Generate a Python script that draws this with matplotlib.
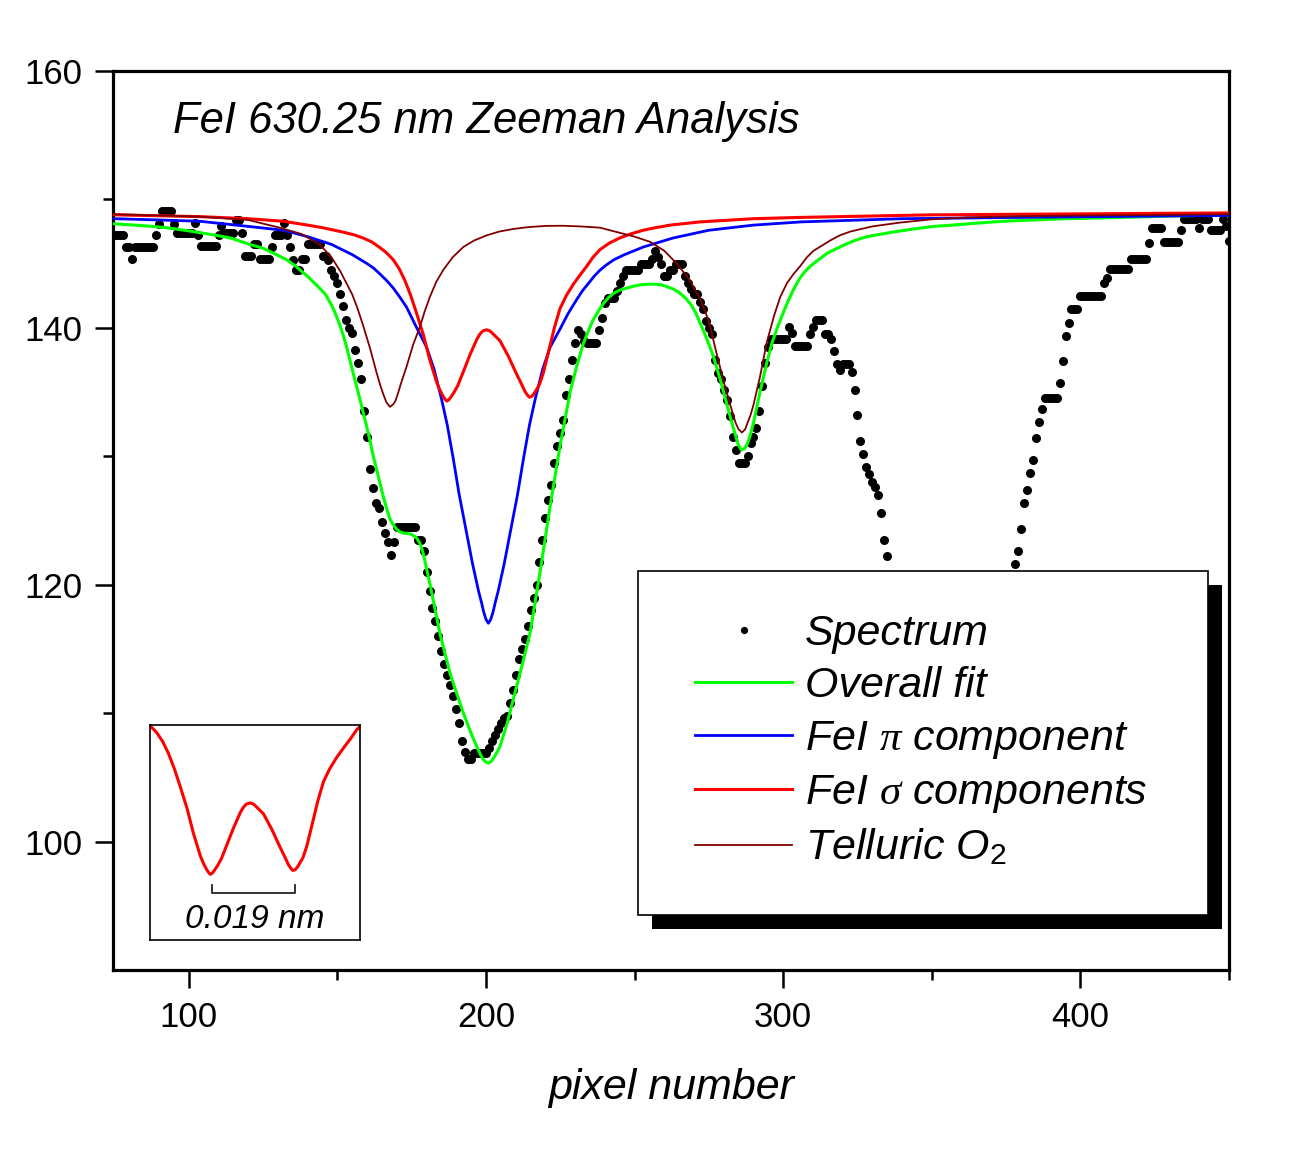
import numpy as np
import matplotlib
matplotlib.use('Agg')
import matplotlib.pyplot as plt
from matplotlib.patches import Rectangle

plt.rcParams['font.family'] = ['Liberation Sans', 'DejaVu Sans']
plt.rcParams['mathtext.fontset'] = 'custom'
plt.rcParams['mathtext.rm'] = 'Liberation Sans'
plt.rcParams['mathtext.it'] = 'Liberation Serif:italic'

# ---------------- data ----------------
spec_x_left = list(range(75, 336))
spec_y_left = [
    147.2, 147.2, 147.2, 147.2, 146.3, 146.3, 145.4, 146.3, 146.3, 146.3,
    146.3, 146.3, 146.3, 146.3, 147.2, 148.1, 149.1, 149.1, 149.1, 149.1,
    148.1, 147.4, 147.4, 147.4, 147.4, 147.4, 147.4, 148.2, 147.2, 146.4,
    146.4, 146.4, 146.4, 146.4, 146.4, 147.2, 147.9, 147.4, 147.4, 147.4,
    147.4, 148.4, 148.4, 147.4, 145.6, 145.6, 145.6, 146.5, 146.5, 145.4,
    145.4, 145.4, 145.4, 146.3, 147.2, 147.2, 147.2, 148.2, 147.2, 146.3,
    145.3, 144.5, 144.5, 145.4, 145.4, 146.5, 146.5, 146.5, 146.5, 146.5,
    145.6, 145.6, 145.3, 144.5, 144.0, 143.5, 142.6, 141.7, 140.6, 140.0,
    139.6, 138.3, 137.3, 136.0, 133.5, 131.5, 129.0, 127.5, 126.4, 126.0,
    124.9, 124.0, 123.3, 122.3, 123.3, 124.5, 124.5, 124.5, 124.5, 124.5,
    124.5, 124.5, 123.5, 123.5, 122.6, 121.0, 119.5, 118.2, 117.2, 116.0,
    114.8, 113.8, 113.0, 112.2, 111.3, 110.3, 109.2, 107.8, 107.0, 106.4,
    106.4, 106.9, 106.9, 106.9, 106.9, 106.9, 107.3, 107.8, 108.3, 108.8,
    109.2, 109.6, 109.8, 110.8, 111.8, 113.0, 114.2, 115.0, 115.8, 116.8,
    118.0, 119.0, 120.0, 121.8, 123.5, 125.2, 126.6, 127.8, 129.5, 130.8,
    131.8, 132.8, 134.8, 136.0, 137.5, 138.8, 139.8, 139.5, 139.0, 138.8,
    138.8, 138.8, 138.8, 139.8, 140.8, 141.9, 142.3, 142.3, 142.3, 142.9,
    143.5, 144.0, 144.5, 144.5, 144.5, 144.5, 144.5, 145.0, 145.0, 145.0,
    145.0, 145.4, 146.0, 145.5, 145.0, 144.0, 144.0, 144.5, 144.5, 145.0,
    145.0, 145.0, 144.0, 143.5, 143.0, 142.6, 142.6, 142.0, 141.5, 140.5,
    140.0, 139.5, 137.5, 136.5, 136.0, 135.2, 134.4, 133.1, 131.5, 130.5,
    129.5, 129.5, 129.5, 130.0, 131.0, 131.5, 132.2, 133.5, 135.5, 137.3,
    138.5, 139.1, 139.1, 139.1, 139.1, 139.1, 139.1, 140.1, 139.6, 138.6,
    138.6, 138.6, 138.6, 138.6, 139.5, 140.1, 140.6, 140.6, 140.6, 139.5,
    139.5, 139.1, 138.2, 137.2, 136.7, 137.2, 137.2, 137.2, 136.6, 135.2,
    133.2, 131.2, 130.2, 129.2, 128.6, 128.0, 127.6, 127.0, 125.6, 123.5, 122.2,
]
spec_x_right = list(range(378, 451))
spec_y_right = [
    121.6, 122.6, 124.3, 126.4, 127.4, 128.7, 129.7, 131.4, 132.7, 133.7,
    134.5, 134.5, 134.5, 134.5, 134.5, 135.7, 137.4, 139.4, 140.4, 141.5,
    141.5, 141.5, 142.5, 142.5, 142.5, 142.5, 142.5, 142.5, 142.5, 142.5,
    143.5, 143.9, 144.6, 144.6, 144.6, 144.6, 144.6, 144.6, 144.6, 145.4,
    145.4, 145.4, 145.4, 145.4, 145.4, 146.6, 147.8, 147.8, 147.8, 147.8,
    146.7, 146.7, 146.7, 146.7, 146.7, 146.7, 147.6, 148.5, 148.5, 148.5,
    148.5, 148.5, 147.8, 148.5, 148.5, 148.5, 147.6, 147.6, 147.6, 147.6,
    148.5, 147.9, 146.8,
]
spec_x = spec_x_left + spec_x_right
spec_y = spec_y_left + spec_y_right

fit_x = [75, 85, 92.5, 100, 109.3, 114, 120.5, 125, 129.5, 133, 136, 140, 144,
         146, 147.5, 149, 150.7, 152, 153, 155.5, 157.2, 158.7, 160.5, 162.1,
         163.8, 165.4, 166.6, 167.7, 169, 170, 171.2, 172.5, 173.8, 175, 176.5,
         177.8, 178.7, 179.5, 181.1, 184.5, 187.9, 190.2, 192.4, 194.7, 196.9,
         198, 199, 200, 200.8, 201.8, 202.8, 203.8, 204.7, 207, 209.2, 212,
         214.8, 218.2, 221.5, 224.9, 228.3, 230.5, 232.8, 234.5, 236, 237.8,
         239.5, 241.2, 243, 245.2, 247.4, 249.7, 252, 254.5, 256.9, 259, 261,
         263.2, 265.3, 267.2, 269, 270.5, 272, 274.2, 276.5, 278.8, 281, 282.5,
         284, 284.9, 285.9, 287, 288, 289, 290, 292.2, 294.5, 296.2, 298, 299.7,
         301.3, 303.5, 305.7, 307.4, 309.1, 311.9, 314.7, 317.3, 320, 324,
         328.1, 333, 338, 344, 350.6, 357, 365, 374, 384.3, 395, 405, 417,
         429.2, 440, 450]
fit_y = [148.1, 147.95, 147.8, 147.55, 147.2, 147.0, 146.5, 146.2, 145.7, 145.3,
         144.8, 144.0, 143.1, 142.6, 142.0, 141.3, 140.3, 139.4, 138.6, 136.3,
         134.8, 133.4, 131.7, 130.0, 128.4, 126.9, 125.9, 125.1, 124.6, 124.3,
         124.1, 124.0, 124.0, 123.9, 123.7, 123.2, 122.6, 121.8, 120.1, 116.2,
         113.1, 111.5, 110.0, 108.6, 107.4, 106.85, 106.4, 106.2, 106.1, 106.25,
         106.6, 107.0, 107.4, 109.1, 111.1, 113.6, 116.2, 121.0, 126.0, 130.8,
         135.0, 137.0, 138.8, 139.8, 140.6, 141.3, 141.9, 142.35, 142.7, 142.95,
         143.1, 143.25, 143.35, 143.4, 143.4, 143.35, 143.2, 143.0, 142.7, 142.3,
         141.8, 141.2, 140.4, 139.2, 137.8, 136.0, 134.1, 132.8, 131.6, 130.9,
         130.5, 130.6, 131.0, 131.7, 132.6, 135.0, 137.3, 138.8, 140.0, 141.0,
         141.9, 143.0, 143.9, 144.4, 144.8, 145.3, 145.8, 146.1, 146.4, 146.8,
         147.1, 147.3, 147.5, 147.7, 147.9, 148.0, 148.15, 148.3, 148.4, 148.5,
         148.55, 148.62, 148.7, 148.75, 148.8]

pi_x = [75, 90, 103.7, 120, 131.8, 140, 148, 155, 160, 162.2, 164.3, 166.5,
        168.8, 171, 173.3, 176.7, 180, 182.5, 185, 187, 189, 191, 193.5, 195.5,
        197.5, 198.5, 199.2, 200, 200.8, 201.6, 202.4, 203.1, 204.1, 206.1,
        208.1, 210.6, 212.6, 214.6, 216.6, 219.1, 221.6, 224.9, 227.6, 230.5,
        232.5, 234.6, 236.5, 238.4, 240.5, 243, 246.6, 253, 263, 275, 290, 306,
        340, 400, 450]
pi_y = [148.5, 148.4, 148.3, 147.9, 147.6, 147.1, 146.5, 145.7, 145.0, 144.65,
        144.2, 143.7, 143.1, 142.4, 141.6, 140.0, 138.5, 136.8, 134.5, 132.4,
        129.8, 127.0, 124.0, 121.6, 119.5, 118.6, 117.9, 117.3, 117.0, 117.3,
        117.9, 118.6, 119.5, 121.6, 124.0, 127.0, 129.8, 132.4, 134.5, 136.8,
        138.5, 139.9, 141.1, 142.2, 142.9, 143.5, 144.05, 144.5, 144.9, 145.3,
        145.7, 146.3, 147.0, 147.6, 148.0, 148.25, 148.5, 148.65, 148.75]

sigma_x = [75, 103.7, 120, 131.8, 140, 145, 149, 152, 155.5, 158.6, 161.5, 164.3,
           166.5, 168.8, 170.8, 172.7, 174.7, 176.7, 179, 181.1, 183.5, 184.5,
           185.5, 186.2, 186.8, 187.5, 188.3, 189.3, 190.5, 192.4, 194.6, 196.9,
           197.9, 198.9, 200.2, 201.4, 202.5, 204.7, 207.5, 210.3, 212, 213.1,
           214, 214.6, 215.3, 216.1, 217, 218, 219.3, 221, 223, 224.9, 227,
           229.4, 231.6, 233.9, 236, 238.4, 241.5, 245, 248.5, 252.9, 257, 262,
           272, 290, 305.7, 350, 450]
sigma_y = [148.8, 148.66, 148.5, 148.3, 148.0, 147.8, 147.6, 147.45, 147.25, 147.0,
           146.7, 146.25, 145.85, 145.3, 144.6, 143.7, 142.5, 141.1, 139.4, 137.5,
           135.7, 135.15, 134.7, 134.45, 134.3, 134.4, 134.65, 135.0, 135.5, 136.6,
           137.9, 139.1, 139.5, 139.75, 139.85, 139.75, 139.5, 139.0, 137.8,
           136.4, 135.6, 135.05, 134.75, 134.6, 134.65, 134.85, 135.2, 135.6,
           136.5, 138.1, 140.0, 141.5, 142.5, 143.4, 144.1, 144.8, 145.5, 146.1,
           146.6, 147.0, 147.3, 147.6, 147.8, 148.0, 148.25, 148.5, 148.6, 148.8,
           148.95]

o2_x = [75, 103.7, 120, 130.6, 138, 144, 148, 151, 153, 155, 156.8, 158.5, 161,
        163.2, 164.6, 165.5, 166.5, 167.7, 168.8, 169.5, 170.4, 171.3, 173.3,
        175.5, 177.8, 179.4, 181.1, 183.3, 185.6, 188.8, 192.4, 196, 200.2,
        204.5, 209.2, 214.5, 220.4, 226, 231.6, 238.4, 245, 250, 255.2, 260,
        264.2, 268, 272, 275, 277.7, 280, 282.2, 283.2, 284, 285, 286.1, 287.2,
        288, 289, 290, 292.2, 294.5, 297, 299, 301.3, 303.5, 305.7, 308,
        310.2, 313, 315.8, 319, 322.6, 330, 339.4, 350, 361.8, 380, 400, 429,
        450]
o2_y = [148.85, 148.66, 148.4, 147.8, 147.3, 146.5, 145.5, 144.4, 143.5, 142.6,
        141.5, 140.3, 138.4, 136.5, 135.4, 134.8, 134.2, 133.85, 134.05, 134.3,
        134.9, 135.6, 137.0, 138.7, 140.1, 141.3, 142.4, 143.6, 144.5, 145.5,
        146.3, 146.8, 147.2, 147.5, 147.7, 147.85, 147.94, 147.95, 147.9, 147.8,
        147.4, 147.1, 146.7, 146.0, 145.0, 143.9, 142.3, 140.5, 137.9, 135.8,
        134.0, 133.2, 132.6, 132.1, 131.85, 132.1, 132.6, 133.2, 134.0, 136.2,
        138.9, 141.0, 142.4, 143.5, 144.2, 144.8, 145.5, 146.0, 146.4, 146.8,
        147.2, 147.5, 147.9, 148.2, 148.45, 148.6, 148.7, 148.75, 148.8, 148.85]

labels = ['Spectrum', 'Overall fit', r'FeI $\pi$ component',
          r'FeI $\sigma$ components', r'Telluric O$_2$']
title = 'FeI 630.25 nm Zeeman Analysis'
xlabel = 'pixel number'
inset_label = '0.019 nm'

c_fit, c_pi, c_sig, c_o2 = '#00ff00', '#0000ff', '#ff0000', '#800000'

# ---------------- figure ----------------
W, H = 1299, 1152
fig = plt.figure(figsize=(W / 100, H / 100), dpi=100)
ax = fig.add_axes([113 / W, 1 - 970 / H, 1116 / W, 899 / H])

h0, = ax.plot(spec_x, spec_y, ls='none', marker='o', ms=6.5, mfc='k', mec='none', zorder=2)
h1, = ax.plot(fit_x, fit_y, color=c_fit, lw=2.2, zorder=3)
h2, = ax.plot(pi_x, pi_y, color=c_pi, lw=2.0, zorder=3)
h3, = ax.plot(sigma_x, sigma_y, color=c_sig, lw=2.2, zorder=3)
h4, = ax.plot(o2_x, o2_y, color=c_o2, lw=1.3, zorder=3)

ax.set_xlim(74.5, 450)
ax.set_ylim(90, 160)
ax.set_xticks([100, 200, 300, 400])
ax.set_xticks([150, 250, 350, 450], minor=True)
ax.set_yticks([100, 120, 140, 160])
ax.set_yticks([110, 130, 150], minor=True)
ax.tick_params(which='major', direction='out', length=13, width=1.8, labelsize=25, pad=9)
ax.tick_params(which='minor', direction='out', length=7, width=1.8)
for s in ax.spines.values():
    s.set_linewidth(2.3)

ax.set_xlabel(xlabel, fontsize=31, style='italic', labelpad=25)
ax.text(0.054, 0.931, title, transform=ax.transAxes, fontsize=31.4, style='italic',
        va='baseline', ha='left')

# legend box with solid shadow
ax.add_patch(Rectangle((0.4830, 0.0456), 0.5107, 0.3827, transform=ax.transAxes,
                       facecolor='black', edgecolor='none', zorder=6))
ax.add_patch(Rectangle((0.4704, 0.0612), 0.5108, 0.3826, transform=ax.transAxes,
                       facecolor='white', edgecolor='black', lw=1.2, zorder=6.1))
leg = ax.legend([h0, h1, h2, h3, h4], labels, loc='upper left',
                bbox_to_anchor=(0.5215, 0.396), frameon=False,
                prop={'size': 31, 'style': 'italic'}, handlelength=2.26,
                handletextpad=0.30, labelspacing=0.29, borderaxespad=0,
                borderpad=0, markerscale=0.8)
leg.set_zorder(7)

# inset
axin = fig.add_axes([150 / W, 1 - 940 / H, 210 / W, 215 / H])
axin.plot(sigma_x, sigma_y, color=c_sig, lw=2.2)
axin.set_xlim(166.5, 237.2)
axin.set_ylim(129.2, 145.9)
axin.set_xticks([])
axin.set_yticks([])
for s in axin.spines.values():
    s.set_linewidth(1.2)
axin.plot([0.295, 0.295, 0.69, 0.69], [0.256, 0.219, 0.219, 0.256],
          transform=axin.transAxes, color='#222222', lw=1.3)
axin.text(0.5, 0.095, inset_label, transform=axin.transAxes, ha='center', va='center',
          fontsize=24, style='italic')

fig.savefig('out.png', dpi=100)
